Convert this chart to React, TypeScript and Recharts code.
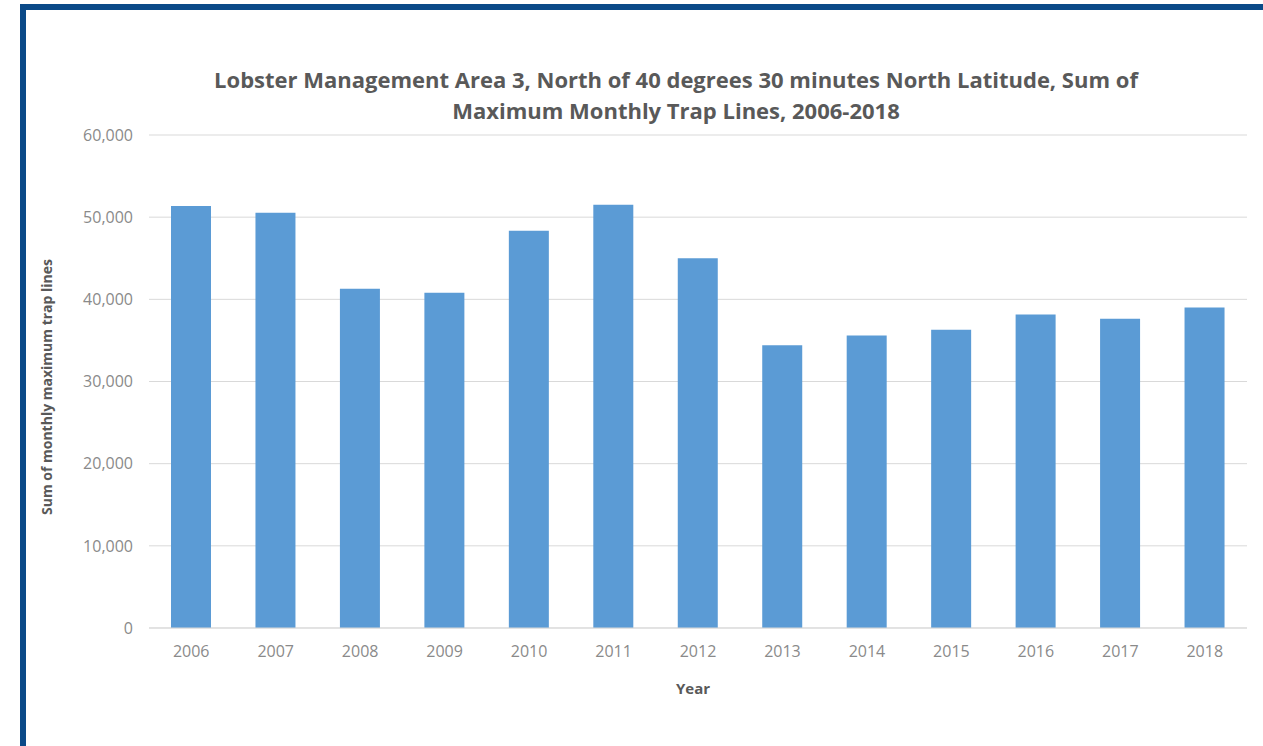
import { BarChart, Bar, XAxis, YAxis, CartesianGrid } from "recharts";

const years = ["2006", "2007", "2008", "2009", "2010", "2011", "2012", "2013", "2014", "2015", "2016", "2017", "2018"];
const trapLines = [51350, 50550, 41300, 40800, 48350, 51500, 45000, 34400, 35600, 36300, 38150, 37650, 39000];
const yTicks = [0, 10000, 20000, 30000, 40000, 50000, 60000];

const titleLines = [
  "Lobster Management Area 3, North of 40 degrees 30 minutes North Latitude, Sum of",
  "Maximum Monthly Trap Lines, 2006-2018",
];

const data = years.map((year, i) => ({ year, value: trapLines[i] }));

const FONT = "'Open Sans', 'Noto Sans', sans-serif";
const TEXT = "#595959";
const TICK = "#8a8a8a";

export default function App() {
  return (
    <div
      style={{
        position: "absolute",
        left: 0,
        top: 0,
        width: 1263,
        height: 746,
        overflow: "hidden",
        background: "#fff",
        fontFamily: FONT,
      }}
    >
      {/* frame, only left and top edges fall inside the shot */}
      <div
        style={{
          position: "absolute",
          left: 20,
          top: 4,
          width: 1300,
          height: 800,
          border: "6px solid #0b4a88",
        }}
      />

      {titleLines.map((t, i) => (
        <div
          key={i}
          style={{
            position: "absolute",
            left: 176,
            width: 1000,
            top: 65 + i * 31,
            textAlign: "center",
            fontSize: 22,
            fontWeight: 700,
            color: TEXT,
            whiteSpace: "nowrap",
            lineHeight: "28px",
          }}
        >
          {t}
        </div>
      ))}

      <div style={{ position: "absolute", left: 0, top: 0 }}>
        <BarChart
          width={1263}
          height={746}
          data={data}
          margin={{ top: 135, right: 16, bottom: 88, left: 0 }}
        >
          <CartesianGrid vertical={false} stroke="#d9d9d9" />
          <XAxis
            dataKey="year"
            height={30}
            axisLine={{ stroke: "#d9d9d9" }}
            tickLine={false}
            tickMargin={12}
            tick={{ fontSize: 16, fill: TICK, fontFamily: FONT }}
          />
          <YAxis
            width={149}
            domain={[0, 60000]}
            ticks={yTicks}
            axisLine={false}
            tickLine={false}
            tickMargin={10}
            tickFormatter={(v: number) => v.toLocaleString("en-US")}
            tick={{ fontSize: 16, fill: TICK, fontFamily: FONT }}
          />
          <Bar dataKey="value" fill="#5b9bd5" barSize={40} isAnimationActive={false} />
        </BarChart>
      </div>

      <div
        style={{
          position: "absolute",
          left: 46,
          top: 387,
          transform: "translate(-50%, -50%) rotate(-90deg)",
          fontSize: 14,
          fontWeight: 700,
          color: TEXT,
          whiteSpace: "nowrap",
        }}
      >
        Sum of monthly maximum trap lines
      </div>
      <div
        style={{
          position: "absolute",
          left: 693,
          top: 688,
          transform: "translate(-50%, -50%)",
          fontSize: 15,
          fontWeight: 700,
          color: TEXT,
        }}
      >
        Year
      </div>
    </div>
  );
}
